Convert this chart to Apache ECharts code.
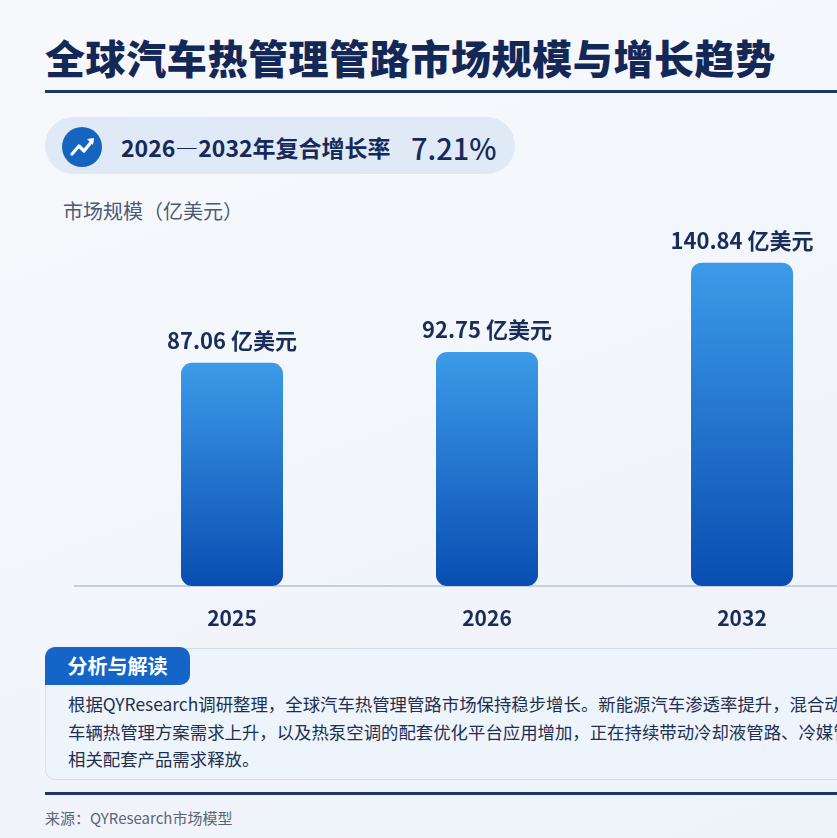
<!DOCTYPE html>
<html lang="zh-CN">
<head>
<meta charset="utf-8">
<title>全球汽车热管理管路市场规模与增长趋势</title>
<script src="https://cdn.jsdelivr.net/npm/echarts@6/dist/echarts.min.js"></script>
<style>
html, body { margin: 0; padding: 0; width: 837px; height: 838px; overflow: hidden; }
body {
	position: relative;
	background: linear-gradient(160deg, #f7f9fc 0%, #eef3fa 100%);
	font-family: "Noto Sans CJK SC", "Noto Sans", sans-serif;
	color: #15295a;
}
.title { position: absolute; left: 45px; top: 31px; font-size: 40px; font-weight: 900; line-height: 52px; white-space: nowrap; letter-spacing: 0.6px; color: #142858; }
.rule { position: absolute; left: 45px; right: 0; top: 90px; height: 3px; background: #1d3668; }
.badge { position: absolute; left: 45px; top: 117px; width: 470px; height: 57px; border-radius: 29px; background: #e0eaf6; }
.icon { position: absolute; left: 62px; top: 127px; width: 40px; height: 40px; border-radius: 50%; background: #1565c0; }
.icon svg { display: block; }
.cagr-label { position: absolute; left: 121px; top: 130px; font-size: 23px; font-weight: 700; line-height: 34px; white-space: nowrap; }
.cagr-value { position: absolute; left: 411px; top: 129px; font-size: 29px; font-weight: 500; line-height: 36px; }
.unit { position: absolute; left: 63px; top: 197px; font-size: 20px; line-height: 28px; color: #4b5a74; }
#chart { position: absolute; left: 0; top: 190px; width: 900px; height: 450px; }
.box { position: absolute; left: 45px; top: 648px; width: 830px; height: 130px; border: 1px solid #d3dce8; border-radius: 10px; background: #eef4fb; }
.tab { position: absolute; left: 45px; top: 647px; width: 145px; height: 38px; border-radius: 10px 10px 10px 0; background: #1565c8; color: #fff; font-size: 20px; font-weight: 700; line-height: 38px; text-align: center; }
.para { position: absolute; left: 68px; top: 690px; font-size: 17.4px; line-height: 27.5px; color: #1e2f52; white-space: nowrap; }
.rule2 { position: absolute; left: 45px; right: 0; top: 792px; height: 3px; background: #1d3668; }
.source { position: absolute; left: 45px; top: 807px; font-size: 15px; line-height: 22px; color: #5a6478; }
</style>
</head>
<body>
<div class="title">全球汽车热管理管路市场规模与增长趋势</div>
<div class="rule"></div>
<div class="badge"></div>
<div class="icon">
	<svg width="40" height="40" viewBox="0 0 40 40">
		<polyline points="10,27 17,19 22,24 30,14" fill="none" stroke="#fff" stroke-width="3.2" stroke-linecap="round" stroke-linejoin="round"/>
		<polygon points="25,12 32,11 31,18" fill="#fff"/>
	</svg>
</div>
<div class="cagr-label">2026—2032年复合增长率</div>
<div class="cagr-value">7.21%</div>
<div class="unit">市场规模（亿美元）</div>
<div id="chart"></div>
<div class="box"></div>
<div class="tab">分析与解读</div>
<div class="para">根据QYResearch调研整理，全球汽车热管理管路市场保持稳步增长。新能源汽车渗透率提升，混合动力与纯电动<br>车辆热管理方案需求上升，以及热泵空调的配套优化平台应用增加，正在持续带动冷却液管路、冷媒管路等<br>相关配套产品需求释放。</div>
<div class="rule2"></div>
<div class="source">来源：QYResearch市场模型</div>

<script>
// 数据
var years = ['2025', '2026', '2032'];
var marketSize = [87.06, 92.75, 140.84];
var unit = '亿美元';

var textColor = '#1a2d5a';
var font = '"Noto Sans CJK SC", "Noto Sans", sans-serif';

var myChart = echarts.init(document.getElementById('chart'));

var option = {
	backgroundColor: 'transparent',
	animation: false,
	grid: {
		left: 104.5,
		right: 30.5,
		top: 37,
		bottom: 54
	},
	xAxis: {
		type: 'category',
		data: years,
		axisLine: { show: false },
		axisTick: { show: false },
		axisLabel: {
			margin: 22,
			fontSize: 21,
			fontWeight: 'bold',
			color: textColor,
			fontFamily: font
		}
	},
	yAxis: {
		type: 'value',
		min: -33,
		max: 160,
		startValue: -33,
		show: false
	},
	series: [{
		type: 'bar',
		data: marketSize,
		barWidth: 102,
		z: 2,
		itemStyle: {
			borderRadius: 11,
			color: new echarts.graphic.LinearGradient(0, 0, 0, 1, [
				{ offset: 0, color: '#3c9be8' },
				{ offset: 1, color: '#0a4db2' }
			])
		},
		label: {
			show: true,
			position: 'top',
			distance: 11,
			formatter: function(p) {
				return p.value.toFixed(2) + ' ' + unit;
			},
			fontSize: 22,
			fontWeight: 'bold',
			color: textColor,
			fontFamily: font
		}
	}]
};

myChart.setOption(option);

// 基线
var baseY = myChart.convertToPixel({ yAxisIndex: 0 }, -33);
myChart.setOption({
	graphic: [{
		type: 'line',
		z: 0,
		shape: { x1: 74, y1: baseY, x2: 900, y2: baseY },
		style: { stroke: '#c6d0dd', lineWidth: 2 }
	}]
});
</script>
</body>
</html>
